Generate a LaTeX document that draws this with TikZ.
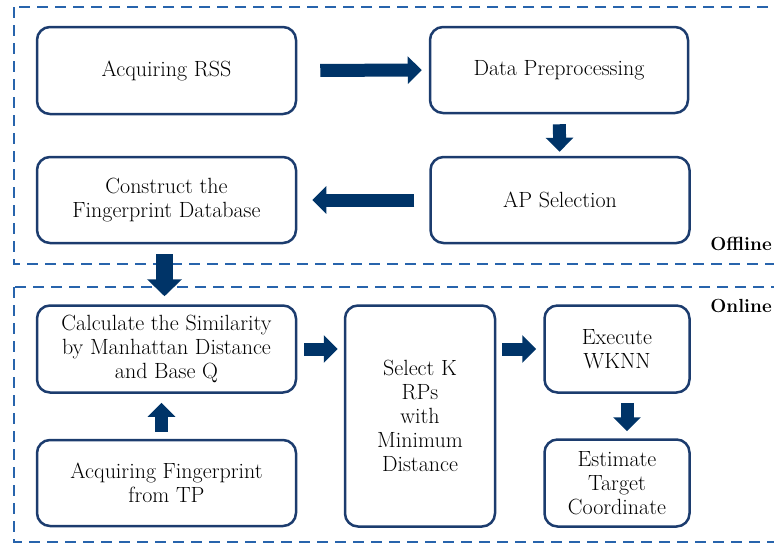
\documentclass[tikz,border=0pt]{standalone}
\usetikzlibrary{arrows.meta}
\definecolor{navy}{RGB}{0,52,104}
\definecolor{boxline}{RGB}{28,60,110}
\definecolor{dashblue}{RGB}{40,100,172}
\tikzset{
  box/.style={draw=boxline,line width=2.5pt,rounded corners=13pt,align=center,
    font=\fontsize{22}{24}\selectfont,inner sep=2pt},
  fat/.style={draw=navy,line width=13pt,-{Triangle[length=14pt,width=27pt]}},
  fatter/.style={draw=navy,line width=17pt,-{Triangle[length=17pt,width=34pt]}},
  region/.style={draw=dashblue,line width=2.5pt,dash pattern=on 11pt off 7pt},
  tag/.style={font=\fontsize{19}{21}\selectfont\bfseries,inner sep=0pt}
}
\begin{document}
\begin{tikzpicture}[x=1pt,y=-1pt]
   \useasboundingbox (0,0) rectangle (774,544);
   \clip (0,0) rectangle (774,544);
   \draw[region] (14,7) rectangle (800,264);
   \draw[region] (14,287) rectangle (800,542);
   \node[tag,anchor=base east] (off) at (772,250) {Offline};
   \node[tag,anchor=base east] (on) at (772,312) {Online};
   % offline part
   \node[box,minimum width=259pt,minimum height=87pt] (rss) at (166.5,70.5) {Acquiring RSS};
   \node[box,minimum width=258pt,minimum height=86pt] (prep) at (559,70) {Data Preprocessing};
   \node[box,minimum width=259pt,minimum height=86pt] (apsel) at (560,200) {AP Selection};
   \node[box,minimum width=259pt,minimum height=86pt] (db) at (166.5,200) {Construct the\\Fingerprint Database};
   % online part
   \node[box,minimum width=259pt,minimum height=87pt] (calc) at (166.5,349) {Calculate the Similarity\\by Manhattan Distance\\and Base Q};
   \node[box,minimum width=259pt,minimum height=86pt] (acqfp) at (166.5,483) {Acquiring Fingerprint\\from TP};
   \node[box,minimum width=150pt,minimum height=221pt] (sel) at (420,416) {Select K\\RPs\\with\\Minimum\\Distance};
   \node[box,minimum width=145pt,minimum height=87pt] (wknn) at (617,349) {Execute\\WKNN};
   \node[box,minimum width=145pt,minimum height=87pt] (est) at (617,483) {Estimate\\Target\\Coordinate};
   \draw[fat,shorten <=23pt,shorten >=7pt] (rss) -- (prep);
   \draw[fat,shorten <=10pt,shorten >=4pt] (prep) -- (apsel);
   \draw[fat,shorten <=15pt,shorten >=15pt] (apsel) -- (db);
   \draw[fatter,shorten <=10pt,shorten >=8pt] ([xshift=-2pt]db.south) -- ([xshift=-2pt]calc.north);
   \draw[fat,shorten <=7pt,shorten >=6pt] (calc) -- (calc -| sel.west);
   \draw[fat,shorten <=6pt,shorten >=7pt] (sel.east |- wknn) -- (wknn);
   \draw[fat,shorten <=9pt,shorten >=7pt] ([xshift=10pt]wknn.south) -- ([xshift=10pt]est.north);
   \draw[fat,shorten <=7pt,shorten >=9pt] ([xshift=-5pt]acqfp.north) -- ([xshift=-5pt]calc.south);
\end{tikzpicture}
\end{document}
